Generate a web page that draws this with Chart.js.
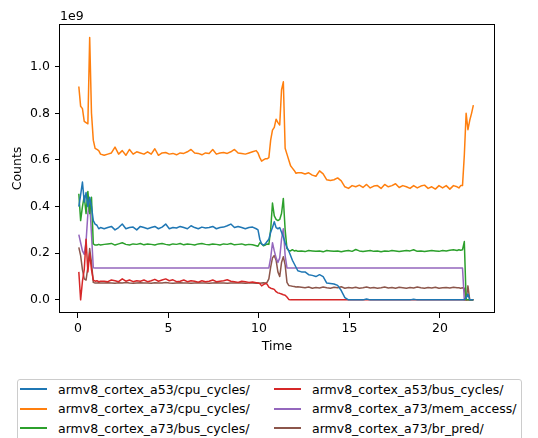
<!DOCTYPE html>
<html>
<head>
<meta charset="utf-8">
<script src="https://cdn.jsdelivr.net/npm/chart.js@4.4.1/dist/chart.umd.min.js"></script>
<style>
  body { margin: 0; background: #fff; }
  #wrap { position: relative; width: 538px; height: 438px; overflow: hidden; }
  #legend {
    position: absolute; left: 17px; top: 379px; width: 505px; height: 70px;
    border: 1px solid #ccc; border-radius: 3px; box-sizing: border-box;
    font-family: 'DejaVu Sans'; font-size: 12.5px; color: #000; background: #fff;
  }
  .item { position: absolute; display: flex; align-items: center; white-space: nowrap; height: 16px; }
  .swatch { width: 27px; height: 2px; margin-right: 11px; }
</style>
</head>
<body>
<div id="wrap">
  <canvas id="chart" width="538" height="438"></canvas>
  <div id="legend"></div>
</div>
<script>
// sample times (s)
const times = [
  0.05, 0.15, 0.25, 0.35, 0.45, 0.55, 0.65, 0.75, 0.85, 0.95, 1.05, 1.15, 1.25,
  1.45, 1.65, 1.85, 2.05, 2.25, 2.45, 2.65, 2.85, 3.05, 3.25,
  3.45, 3.65, 3.85, 4.05, 4.25, 4.45, 4.65, 4.85, 5.05, 5.25,
  5.45, 5.65, 5.85, 6.05, 6.25, 6.45, 6.65, 6.85, 7.05, 7.25,
  7.45, 7.65, 7.85, 8.05, 8.25, 8.45, 8.65, 8.85, 9.05, 9.25,
  9.45, 9.65, 9.85,
  9.95, 10.05, 10.15, 10.25, 10.35, 10.45, 10.55, 10.65, 10.75, 10.85, 10.95, 11.05,
  11.15, 11.25, 11.35, 11.45, 11.55, 11.65, 11.75, 11.85, 11.95, 12.05, 12.15,
  12.35, 12.55, 12.75, 12.95, 13.15, 13.35, 13.55, 13.75, 13.95, 14.15,
  14.35, 14.55, 14.75, 14.95, 15.15, 15.35, 15.55, 15.75, 15.95, 16.15,
  16.35, 16.55, 16.75, 16.95, 17.15, 17.35, 17.55, 17.75, 17.95, 18.15,
  18.35, 18.55, 18.75, 18.95, 19.15, 19.35, 19.55, 19.75, 19.95, 20.15,
  20.35, 20.55, 20.75, 20.95,
  21.05, 21.15, 21.25, 21.35, 21.45, 21.55, 21.65, 21.75, 21.85
];

// counts, in units of 1e9
const a53CpuCycles = [
  0.40, 0.45, 0.505, 0.42, 0.46, 0.40, 0.44, 0.40, 0.34, 0.325, 0.32, 0.305, 0.31,
  0.305, 0.31, 0.315, 0.30, 0.31, 0.325, 0.305, 0.31, 0.312, 0.30,
  0.315, 0.31, 0.305, 0.31, 0.315, 0.305, 0.312, 0.325, 0.305, 0.31,
  0.308, 0.315, 0.31, 0.305, 0.318, 0.31, 0.305, 0.312, 0.308, 0.31,
  0.315, 0.305, 0.31, 0.312, 0.318, 0.325, 0.31, 0.315, 0.31, 0.305,
  0.31, 0.312, 0.305,
  0.30, 0.26, 0.24, 0.235, 0.24, 0.25, 0.26, 0.29, 0.31, 0.335, 0.31, 0.305,
  0.31, 0.29, 0.27, 0.245, 0.225, 0.21, 0.19, 0.17, 0.155, 0.14, 0.125,
  0.12, 0.12, 0.108, 0.105, 0.10, 0.108, 0.10, 0.072, 0.07, 0.068,
  0.062, 0.04, 0.01, 0, 0, 0, 0, 0, 0.004, 0,
  0, 0, 0, 0, 0, 0, 0, 0, 0, 0,
  0, 0.003, 0, 0, 0, 0, 0, 0, 0, 0,
  0, 0, 0, 0,
  0, 0, 0, 0, 0.01, 0.025, 0, 0, 0
];
const a73CpuCycles = [
  0.915, 0.83, 0.82, 0.765, 0.76, 0.755, 1.125, 0.80, 0.685, 0.65, 0.645, 0.64, 0.625,
  0.62, 0.625, 0.63, 0.655, 0.625, 0.64, 0.62, 0.645, 0.625, 0.635,
  0.63, 0.625, 0.635, 0.625, 0.648, 0.62, 0.63, 0.632, 0.625, 0.628,
  0.622, 0.63, 0.628, 0.635, 0.645, 0.63, 0.628, 0.622, 0.63, 0.628,
  0.645, 0.625, 0.63, 0.632, 0.628, 0.635, 0.645, 0.63, 0.628, 0.625,
  0.63, 0.635, 0.64,
  0.63, 0.61, 0.595, 0.60, 0.605, 0.605, 0.61, 0.685, 0.728, 0.74, 0.775, 0.76,
  0.75, 0.90, 0.935, 0.65, 0.625, 0.60, 0.575, 0.565, 0.555, 0.543, 0.545,
  0.545, 0.54, 0.545, 0.535, 0.53, 0.553, 0.54, 0.515, 0.512, 0.515,
  0.523, 0.51, 0.485, 0.478, 0.49, 0.485, 0.492, 0.482, 0.495, 0.48,
  0.488, 0.49, 0.478, 0.495, 0.485, 0.49, 0.498, 0.482, 0.49, 0.485,
  0.478, 0.49, 0.48, 0.488, 0.492, 0.478, 0.485, 0.475, 0.49, 0.48,
  0.49, 0.475, 0.49, 0.485,
  0.48, 0.49, 0.49, 0.62, 0.80, 0.73, 0.77, 0.80, 0.835
];
const a73BusCycles = [
  0.455, 0.34, 0.40, 0.445, 0.37, 0.465, 0.37, 0.44, 0.24, 0.235, 0.235, 0.238, 0.235,
  0.238, 0.24, 0.242, 0.235, 0.24, 0.245, 0.238, 0.235, 0.24, 0.238,
  0.242, 0.236, 0.24, 0.238, 0.235, 0.24, 0.242, 0.238, 0.235, 0.24,
  0.238, 0.242, 0.236, 0.24, 0.238, 0.235, 0.24, 0.242, 0.238, 0.236,
  0.24, 0.238, 0.235, 0.24, 0.238, 0.242, 0.236, 0.238, 0.24, 0.235,
  0.238, 0.236, 0.232,
  0.23, 0.245, 0.24, 0.232, 0.235, 0.24, 0.238, 0.30, 0.415, 0.36, 0.345, 0.34,
  0.345, 0.37, 0.435, 0.30, 0.22, 0.212, 0.21, 0.215, 0.21, 0.212, 0.208,
  0.21, 0.207, 0.212, 0.21, 0.208, 0.21, 0.206, 0.212, 0.21, 0.208,
  0.21, 0.206, 0.21, 0.212, 0.208, 0.216, 0.21, 0.207, 0.21, 0.212,
  0.208, 0.21, 0.206, 0.21, 0.208, 0.212, 0.21, 0.207, 0.21, 0.212,
  0.21, 0.215, 0.208, 0.21, 0.207, 0.21, 0.212, 0.21, 0.208, 0.212,
  0.21, 0.213, 0.215, 0.212,
  0.215, 0.213, 0.215, 0.25, 0, 0, 0, 0, 0
];
const a53BusCycles = [
  0.12, 0.0, 0.08, 0.13, 0.26, 0.12, 0.20, 0.13, 0.085, 0.08, 0.082, 0.078, 0.08,
  0.08, 0.078, 0.085, 0.082, 0.078, 0.09, 0.08, 0.085, 0.078, 0.082,
  0.08, 0.085, 0.078, 0.082, 0.088, 0.08, 0.085, 0.09, 0.082, 0.086,
  0.078, 0.08, 0.085, 0.078, 0.082, 0.08, 0.076, 0.082, 0.078, 0.08,
  0.085, 0.078, 0.08, 0.082, 0.086, 0.08, 0.078, 0.075, 0.08, 0.078,
  0.075, 0.077, 0.074,
  0.072, 0.07, 0.06, 0.065, 0.07, 0.068, 0.055, 0.05, 0.048, 0.045, 0.035, 0.03,
  0.028, 0.025, 0.022, 0.02, 0.012, 0.002, 0, 0, 0, 0, 0,
  0, 0, 0, 0, 0, 0, 0, 0, 0, 0,
  0, 0, 0, 0, 0, 0, 0, 0, 0, 0,
  0, 0, 0, 0, 0, 0, 0, 0, 0, 0,
  0, 0, 0, 0, 0, 0, 0, 0, 0, 0,
  0, 0, 0, 0,
  0, 0, 0, 0, 0, 0, 0, 0, 0
];
const a73MemAccess = [
  0.28, 0.245, 0.21, 0.195, 0.25, 0.37, 0.42, 0.28, 0.138, 0.137, 0.137, 0.137, 0.137,
  0.137, 0.137, 0.137, 0.137, 0.137, 0.137, 0.137, 0.137, 0.137, 0.137,
  0.137, 0.137, 0.137, 0.137, 0.137, 0.137, 0.137, 0.137, 0.137, 0.137,
  0.137, 0.137, 0.137, 0.137, 0.137, 0.137, 0.137, 0.137, 0.137, 0.137,
  0.137, 0.137, 0.137, 0.137, 0.137, 0.137, 0.137, 0.137, 0.137, 0.137,
  0.137, 0.137, 0.137,
  0.137, 0.137, 0.137, 0.137, 0.137, 0.137, 0.137, 0.18, 0.245, 0.21, 0.18, 0.16,
  0.18, 0.26, 0.305, 0.19, 0.137, 0.137, 0.137, 0.137, 0.137, 0.137, 0.137,
  0.137, 0.137, 0.137, 0.137, 0.137, 0.137, 0.137, 0.137, 0.137, 0.137,
  0.137, 0.137, 0.137, 0.137, 0.137, 0.137, 0.137, 0.137, 0.137, 0.137,
  0.137, 0.137, 0.137, 0.137, 0.137, 0.137, 0.137, 0.137, 0.137, 0.137,
  0.137, 0.137, 0.137, 0.137, 0.137, 0.137, 0.137, 0.137, 0.137, 0.137,
  0.137, 0.137, 0.137, 0.137,
  0.137, 0.137, 0.137, 0, 0, 0, 0, 0, 0
];
const a73BrPred = [
  0.225, 0.19, 0.13, 0.09, 0.085, 0.14, 0.22, 0.16, 0.075, 0.072, 0.072, 0.073, 0.072,
  0.072, 0.073, 0.072, 0.071, 0.073, 0.072, 0.074, 0.072, 0.071, 0.072,
  0.073, 0.072, 0.072, 0.071, 0.073, 0.072, 0.072, 0.074, 0.072, 0.071,
  0.072, 0.073, 0.072, 0.072, 0.071, 0.072, 0.073, 0.072, 0.072, 0.071,
  0.072, 0.073, 0.072, 0.072, 0.071, 0.072, 0.072, 0.073, 0.072, 0.071,
  0.072, 0.072, 0.071,
  0.072, 0.071, 0.072, 0.073, 0.072, 0.075, 0.09, 0.14, 0.18, 0.19, 0.17, 0.12,
  0.10, 0.16, 0.185, 0.15, 0.075, 0.062, 0.06, 0.058, 0.057, 0.055, 0.056,
  0.054, 0.052, 0.055, 0.05, 0.053, 0.051, 0.055, 0.052, 0.05, 0.054,
  0.052, 0.056, 0.05, 0.053, 0.051, 0.054, 0.05, 0.052, 0.055, 0.051,
  0.053, 0.05, 0.052, 0.055, 0.051, 0.053, 0.05, 0.054, 0.052, 0.05,
  0.053, 0.051, 0.055, 0.052, 0.05, 0.053, 0.051, 0.054, 0.05, 0.052,
  0.053, 0.051, 0.054, 0.052,
  0.052, 0.05, 0.052, 0.05, 0.0, 0.06, 0.0, 0, 0
];

const seriesLabels = [
  'armv8_cortex_a53/cpu_cycles/',
  'armv8_cortex_a73/cpu_cycles/',
  'armv8_cortex_a73/bus_cycles/',
  'armv8_cortex_a53/bus_cycles/',
  'armv8_cortex_a73/mem_access/',
  'armv8_cortex_a73/br_pred/'
];
const seriesValues = [a53CpuCycles, a73CpuCycles, a73BusCycles, a53BusCycles, a73MemAccess, a73BrPred];
const seriesColors = ['#1f77b4', '#ff7f0e', '#2ca02c', '#d62728', '#9467bd', '#8c564b'];

const xTicks = [0, 5, 10, 15, 20];
const yTicks = [0.0, 0.2, 0.4, 0.6, 0.8, 1.0];
const offsetLabel = '1e9';

seriesValues.forEach((v, i) => {
  if (v.length !== times.length) console.warn('length mismatch', seriesLabels[i], v.length, times.length);
});

Chart.defaults.font.family = 'DejaVu Sans';
Chart.defaults.font.size = 12.5;
Chart.defaults.color = '#000';

// matplotlib-style full frame and the exponent label
const framePlugin = {
  id: 'frame',
  afterDraw(chart) {
    const { ctx, chartArea: a } = chart;
    ctx.save();
    ctx.strokeStyle = '#000';
    ctx.lineWidth = 1;
    ctx.strokeRect(Math.round(a.left) - 0.5, Math.round(a.top) + 0.5,
      Math.round(a.right - a.left) + 1, Math.round(a.bottom - a.top) - 1);
    ctx.fillStyle = '#000';
    ctx.font = '12.5px "DejaVu Sans"';
    ctx.textAlign = 'left';
    ctx.textBaseline = 'alphabetic';
    ctx.fillText(offsetLabel, a.left, a.top - 4);
    ctx.restore();
  }
};

const chart = new Chart(document.getElementById('chart'), {
  type: 'line',
  data: {
    datasets: seriesLabels.map((label, i) => ({
      label: label,
      data: times.map((t, j) => ({ x: t, y: seriesValues[i][j] })),
      borderColor: seriesColors[i],
      backgroundColor: seriesColors[i],
      borderWidth: 1.5,
      borderJoinStyle: 'round',
      pointRadius: 0,
      tension: 0,
      fill: false
    }))
  },
  options: {
    responsive: false,
    animation: false,
    devicePixelRatio: 1,
    layout: { padding: { left: 10, top: 24, right: 44, bottom: 84 } },
    plugins: {
      legend: { display: false },
      tooltip: { enabled: false }
    },
    scales: {
      x: {
        type: 'linear',
        min: -0.99,
        max: 22.99,
        afterFit: s => { s.height = 41; },
        afterBuildTicks: s => { s.ticks = xTicks.map(v => ({ value: v })); },
        grid: { drawOnChartArea: false, drawTicks: true, tickLength: 5, color: '#000' },
        border: { display: false },
        ticks: { padding: 3, maxRotation: 0, callback: v => String(v) },
        title: { display: true, text: 'Time', padding: 0 }
      },
      y: {
        min: -0.0563,
        max: 1.183,
        afterFit: s => { s.width = 50; },
        afterBuildTicks: s => { s.ticks = yTicks.map(v => ({ value: v })); },
        grid: { drawOnChartArea: false, drawTicks: true, tickLength: 5, color: '#000' },
        border: { display: false },
        ticks: { padding: 5, callback: v => v.toFixed(1) },
        title: { display: true, text: 'Counts', padding: 0 }
      }
    }
  },
  plugins: [framePlugin]
});

// legend below the axes, two columns filled top to bottom
const legendEl = document.getElementById('legend');
const rowTops = [1.3, 20.5, 40.3];
const colLefts = [2, 256];
chart.data.datasets.forEach((ds, i) => {
  const item = document.createElement('div');
  item.className = 'item';
  item.style.left = colLefts[Math.floor(i / 3)] + 'px';
  item.style.top = rowTops[i % 3] + 'px';
  const sw = document.createElement('span');
  sw.className = 'swatch';
  sw.style.background = ds.borderColor;
  const txt = document.createElement('span');
  txt.textContent = ds.label;
  item.appendChild(sw);
  item.appendChild(txt);
  legendEl.appendChild(item);
});
</script>
</body>
</html>
